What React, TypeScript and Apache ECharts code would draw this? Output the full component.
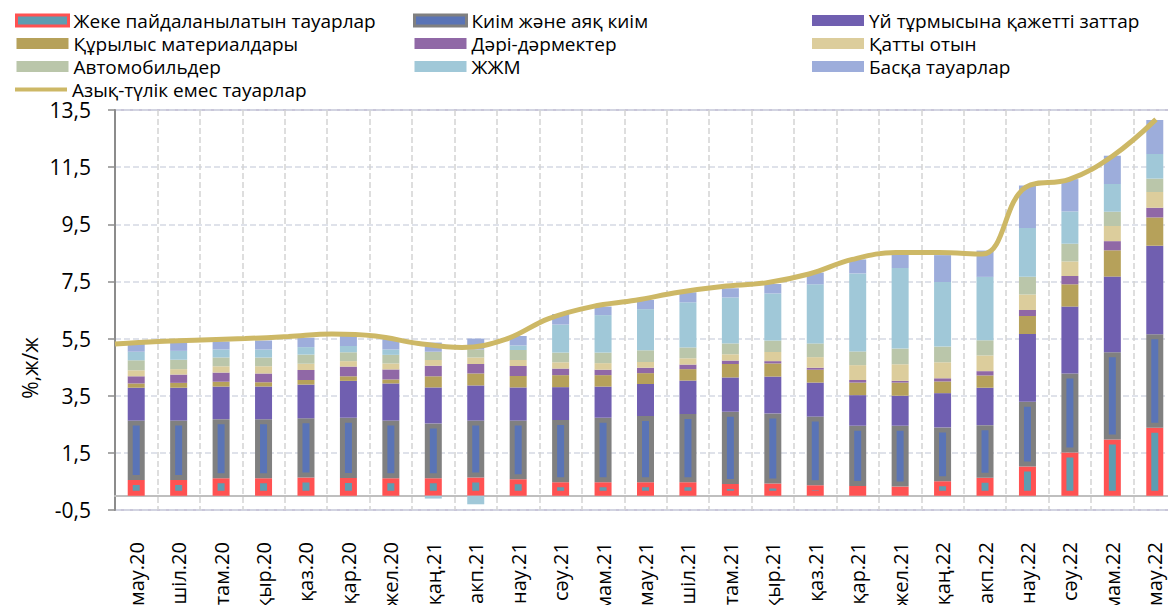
import React, { useEffect, useRef } from "react";
import * as echarts from "echarts";

const categories = [
  "мау.20", "шіл.20", "там.20", "қыр.20", "қаз.20", "қар.20", "жел.20", "қаң.21", "акп.21",
  "нау.21", "сәу.21", "мам.21", "мау.21", "шіл.21", "там.21", "қыр.21", "қаз.21", "қар.21",
  "жел.21", "қаң.22", "акп.22", "нау.22", "сәу.22", "мам.22", "мау.22",
];

const personal = [0.55, 0.55, 0.61, 0.61, 0.64, 0.62, 0.61, 0.61, 0.64, 0.58, 0.47, 0.47, 0.47, 0.47, 0.41, 0.43, 0.37, 0.34, 0.32, 0.51, 0.63, 1.02, 1.51, 1.97, 2.38];
const clothing = [2.08, 2.08, 2.07, 2.07, 2.07, 2.11, 2.02, 1.92, 1.99, 2.05, 2.18, 2.26, 2.32, 2.39, 2.53, 2.45, 2.4, 2.11, 2.13, 1.88, 1.84, 2.27, 2.77, 3.05, 3.27];
const household = [1.15, 1.15, 1.14, 1.14, 1.18, 1.29, 1.3, 1.26, 1.23, 1.16, 1.15, 1.09, 1.12, 1.17, 1.2, 1.29, 1.19, 1.07, 1.05, 1.2, 1.31, 2.37, 2.34, 2.65, 3.1];
const construction = [0.15, 0.17, 0.17, 0.15, 0.16, 0.16, 0.14, 0.39, 0.42, 0.4, 0.42, 0.4, 0.38, 0.4, 0.47, 0.46, 0.45, 0.44, 0.46, 0.41, 0.43, 0.63, 0.78, 0.92, 0.99];
const medicine = [0.25, 0.29, 0.32, 0.31, 0.35, 0.34, 0.35, 0.37, 0.33, 0.35, 0.23, 0.19, 0.19, 0.16, 0.12, 0.08, 0.07, 0.09, 0.06, 0.11, 0.15, 0.21, 0.29, 0.32, 0.34];
const solidFuel = [0.21, 0.19, 0.22, 0.25, 0.22, 0.19, 0.21, 0.2, 0.23, 0.21, 0.22, 0.23, 0.2, 0.22, 0.22, 0.32, 0.37, 0.52, 0.58, 0.56, 0.55, 0.54, 0.51, 0.53, 0.55];
const cars = [0.35, 0.33, 0.31, 0.31, 0.32, 0.31, 0.3, 0.29, 0.28, 0.35, 0.34, 0.37, 0.41, 0.38, 0.38, 0.4, 0.48, 0.48, 0.55, 0.55, 0.53, 0.62, 0.62, 0.5, 0.47];
const fuel = [0.3, 0.31, 0.28, 0.28, 0.26, 0.22, 0.19, -0.1, -0.3, 0.16, 0.98, 1.31, 1.44, 1.58, 1.61, 1.65, 2.07, 2.73, 2.82, 2.26, 2.22, 1.71, 1.13, 0.97, 0.86];
const other = [0.32, 0.29, 0.28, 0.31, 0.33, 0.36, 0.39, 0.32, 0.38, 0.33, 0.37, 0.3, 0.32, 0.35, 0.32, 0.33, 0.41, 0.49, 0.48, 0.94, 0.92, 1.49, 1.13, 0.99, 1.19];
const nonFood = [5.31, 5.4, 5.45, 5.5, 5.57, 5.66, 5.59, 5.33, 5.19, 5.47, 6.2, 6.62, 6.84, 7.12, 7.32, 7.45, 7.76, 8.27, 8.51, 8.51, 8.46, 10.8, 11.07, 11.89, 13.17];

const names = {
  personal: "Жеке пайдаланылатын тауарлар",
  clothing: "Киім және аяқ киім",
  household: "Үй тұрмысына қажетті заттар",
  construction: "Құрылыс материалдары",
  medicine: "Дәрі-дәрмектер",
  solidFuel: "Қатты отын",
  cars: "Автомобильдер",
  fuel: "ЖЖМ",
  other: "Басқа тауарлар",
  line: "Азық-түлік емес тауарлар",
};

const Y_MIN = -0.5;
const Y_MAX = 13.5;
const Y_STEP = 2;
const FONT = "'Open Sans', 'Noto Sans', sans-serif";

export default function App() {
  const ref = useRef<HTMLDivElement>(null);

  useEffect(() => {
    if (!ref.current) return;
    const chart = echarts.init(ref.current, null, { renderer: "svg" });

    const bar = (name: string, data: number[], itemStyle: any) => ({
      name,
      type: "bar",
      stack: "total",
      barWidth: 17,
      xAxisIndex: 0,
      yAxisIndex: 0,
      data,
      itemStyle,
      z: 2,
    });

    const legendBase = {
      orient: "vertical",
      padding: 0,
      itemWidth: 52,
      itemHeight: 11,
      itemGap: 4,
      selectedMode: false,
      itemStyle: { borderWidth: 0 },
      textStyle: { fontSize: 19, color: "#000", fontFamily: FONT, lineHeight: 19 },
    };

    const option: any = {
      animation: false,
      textStyle: { fontFamily: FONT },
      grid: [
        {
          left: 115, right: -8, top: 110, bottom: 95, outerBoundsMode: "none", containLabel: false,
          show: true, borderColor: "#C9C6D9", borderWidth: 2,
        },
        { left: 115, right: 12, top: 110, bottom: 95, outerBoundsMode: "none", containLabel: false },
      ],
      legend: [
        {
          ...legendBase,
          left: 15,
          top: 11,
          data: [
            { name: names.personal, icon: "rect", itemStyle: { borderWidth: 3, borderColor: "#FF5252" } },
            { name: names.construction, icon: "rect" },
            { name: names.cars, icon: "rect" },
          ],
        },
        {
          ...legendBase,
          left: 15,
          top: 80,
          itemHeight: 4,
          data: [{ name: names.line, icon: "rect" }],
        },
        {
          ...legendBase,
          left: 413,
          top: 11,
          data: [
            { name: names.clothing, icon: "rect", itemStyle: { borderWidth: 3, borderColor: "#808080" } },
            { name: names.medicine, icon: "rect" },
            { name: names.fuel, icon: "rect" },
          ],
        },
        {
          ...legendBase,
          left: 812,
          top: 11,
          data: [
            { name: names.household, icon: "rect" },
            { name: names.solidFuel, icon: "rect" },
            { name: names.other, icon: "rect" },
          ],
        },
      ],
      xAxis: [
        {
          type: "category",
          gridIndex: 0,
          data: categories,
          boundaryGap: true,
          axisLine: { onZero: true, lineStyle: { color: "#BFBFBF", width: 2 } },
          axisTick: { show: false },
          axisLabel: { rotate: 90, interval: 0, fontSize: 20, color: "#000", margin: 32, fontFamily: FONT },
          splitLine: { show: true, lineStyle: { type: "dashed", color: "#D3D3D3", width: 1.5 } },
        },
        {
          type: "category",
          gridIndex: 1,
          data: categories,
          boundaryGap: false,
          show: false,
        },
      ],
      yAxis: [
        {
          type: "value",
          gridIndex: 0,
          min: Y_MIN,
          max: Y_MAX,
          interval: Y_STEP,
          axisLine: { show: true, lineStyle: { color: "#8C8C8C", width: 2 } },
          axisTick: { show: true, length: 7, lineStyle: { color: "#8C8C8C", width: 1.5 } },
          axisLabel: {
            fontSize: 21,
            color: "#000",
            margin: 24,
            fontFamily: FONT,
            formatter: (v: number) => v.toFixed(1).replace(".", ","),
          },
          splitLine: { show: true, lineStyle: { type: "dashed", color: "#D5D9E4", width: 1.5 } },
        },
        {
          type: "value",
          gridIndex: 1,
          min: Y_MIN,
          max: Y_MAX,
          interval: Y_STEP,
          show: false,
          splitLine: { show: false },
        },
      ],
      graphic: [
        {
          type: "text",
          x: 30,
          y: 368,
          rotation: Math.PI / 2,
          style: {
            text: "%,ж/ж",
            fontSize: 21,
            fontFamily: FONT,
            fill: "#000",
            align: "center",
            verticalAlign: "middle",
          },
        },
      ],
      series: [
        bar(names.personal, personal, { color: "#5E9DB1", borderColor: "#FF5252", borderWidth: 5 }),
        bar(names.clothing, clothing, { color: "#5A74B6", borderColor: "#808080", borderWidth: 5 }),
        bar(names.household, household, { color: "#705FB0" }),
        bar(names.construction, construction, { color: "#B6A15A" }),
        bar(names.medicine, medicine, { color: "#9068A6" }),
        bar(names.solidFuel, solidFuel, { color: "#DCCD9C" }),
        bar(names.cars, cars, { color: "#BAC6AA" }),
        bar(names.fuel, fuel, { color: "#A0C8D8" }),
        bar(names.other, other, { color: "#9DADDB" }),
        {
          name: names.line,
          type: "line",
          xAxisIndex: 1,
          yAxisIndex: 1,
          data: nonFood,
          smooth: 0.4,
          symbol: "none",
          color: "#CDB866",
          itemStyle: { color: "#CDB866" },
          lineStyle: { color: "#CDB866", width: 5 },
          z: 5,
        },
      ],
    };

    chart.setOption(option);
    return () => chart.dispose();
  }, []);

  return (
    <div
      ref={ref}
      style={{ position: "absolute", left: 0, top: 0, width: 1168, height: 605, background: "#fff" }}
    />
  );
}
